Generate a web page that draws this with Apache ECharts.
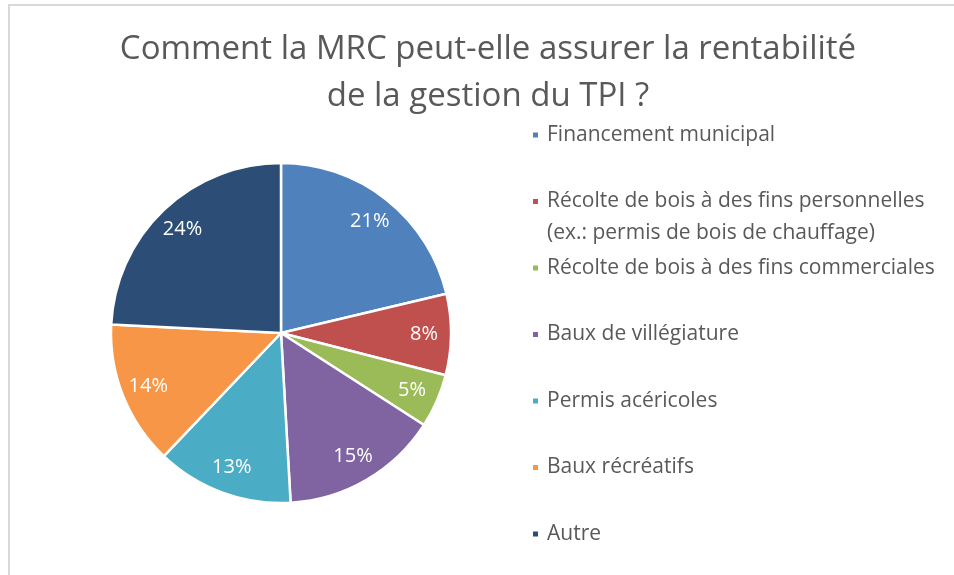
<!DOCTYPE html>
<html>
<head>
<meta charset="utf-8">
<script src="https://cdn.jsdelivr.net/npm/echarts@6/dist/echarts.min.js"></script>
<style>
  html, body { margin: 0; padding: 0; background: #fff; }
  #frame {
    position: absolute; left: 8px; top: 4px; width: 960px; height: 580px;
    border-left: 2px solid #d9d9d9; border-top: 2px solid #d9d9d9;
  }
  #pieChart { position: absolute; left: 0; top: 0; width: 954px; height: 575px; }
</style>
</head>
<body>
<div id="frame"></div>
<div id="pieChart"></div>
<script>
const categories = [
  'Financement municipal',
  'Récolte de bois à des fins personnelles (ex.: permis de bois de chauffage)',
  'Récolte de bois à des fins commerciales',
  'Baux de villégiature',
  'Permis acéricoles',
  'Baux récréatifs',
  'Autre'
];
const values = [21.3, 7.7, 5.1, 15.0, 13.0, 13.7, 24.2];
const colors = ['#4f81bd', '#c0504d', '#9bbb59', '#8064a2', '#4bacc6', '#f79646', '#2c4d75'];

const chart = echarts.init(document.getElementById('pieChart'));
const pieData = categories.map((name, i) => ({ name: name, value: values[i] }));
const font = '"Open Sans", "Noto Sans", sans-serif';

const options = {
  animation: false,
  title: {
    text: 'Comment la MRC peut-elle assurer la rentabilité\nde la gestion du TPI ?',
    left: 488,
    textAlign: 'center',
    top: 26,
    padding: 0,
    textStyle: {
      color: '#595959',
      fontFamily: font,
      fontSize: 33,
      fontWeight: 'normal',
      lineHeight: 47
    }
  },
  legend: {
    orient: 'vertical',
    left: 531,
    top: 87,
    height: 700,
    padding: 0,
    data: categories,
    icon: 'rect',
    itemWidth: 7,
    itemHeight: 7,
    itemGap: -29.5,
    // each label is three lines tall (blank, text, text or blank) so the icon sits on the first text line
    formatter: function (name) {
      const parts = name.split(' (');
      return '\n' + parts[0] + '\n' + (parts[1] ? '(' + parts[1] : '');
    },
    textStyle: {
      color: '#595959',
      fontFamily: font,
      fontSize: 21,
      lineHeight: 32,
      padding: [0, 0, 0, 3]
    }
  },
  series: [
    {
      name: 'rentabilite',
      type: 'pie',
      center: [281, 333],
      radius: [0, 170],
      startAngle: 90,
      clockwise: true,
      label: { show: false },
      labelLine: { show: false },
      itemStyle: { borderColor: '#fff', borderWidth: 2.5 },
      emphasis: { scale: false },
      data: pieData.map((d, i) => ({ name: d.name, value: d.value, itemStyle: { color: colors[i] } }))
    },
    {
      name: 'etiquettes',
      type: 'pie',
      center: [281, 333],
      radius: [0, 280],
      startAngle: 90,
      clockwise: true,
      silent: true,
      avoidLabelOverlap: false,
      itemStyle: { color: 'rgba(0,0,0,0)', borderWidth: 0 },
      labelLine: { show: false },
      label: {
        show: true,
        position: 'inside',
        color: '#fff',
        fontFamily: font,
        fontSize: 20,
        formatter: function (p) {
          return Math.round(p.percent) + '%';
        }
      },
      data: pieData
    }
  ]
};
chart.setOption(options);
</script>
</body>
</html>
